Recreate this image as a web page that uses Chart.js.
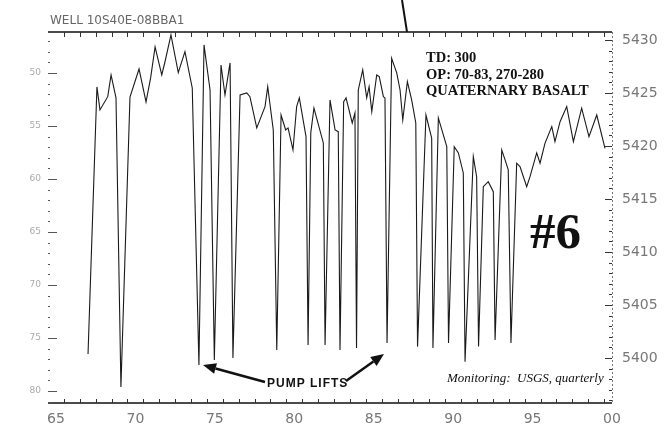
<!DOCTYPE html>
<html>
<head>
<meta charset="utf-8">
<script src="https://cdn.jsdelivr.net/npm/chart.js@4.4.1/dist/chart.umd.min.js"></script>
<style>
  html, body { margin: 0; padding: 0; background: #fff; }
  #wrap { width: 670px; height: 433px; position: relative; }
</style>
</head>
<body>
<div id="wrap"><canvas id="hydro"></canvas></div>
<script>
/* sample dates (decimal year) and water-level elevation (ft) */
var years = [
  1967.02, 1967.58, 1967.77, 1968.26, 1968.47, 1968.78, 1969.09, 1969.66, 1970.23, 1970.67,
  1970.96, 1971.24, 1971.66, 1971.86, 1972.24, 1972.70, 1973.12, 1973.58, 1974.00, 1974.32,
  1974.70, 1974.97, 1975.39, 1975.64, 1975.96, 1976.14, 1976.59, 1977.01, 1977.21, 1977.64,
  1978.16, 1978.33, 1978.68, 1978.90, 1979.17, 1979.46, 1979.61, 1979.92, 1980.15, 1980.32,
  1980.74, 1980.87, 1981.04, 1981.24, 1981.83, 1981.94, 1982.25, 1982.57, 1982.77, 1982.88,
  1983.11, 1983.26, 1983.65, 1983.82, 1983.92, 1984.03, 1984.31, 1984.56, 1984.71, 1984.88,
  1985.19, 1985.35, 1985.61, 1985.71, 1985.84, 1986.13, 1986.45, 1986.66, 1986.83, 1987.12,
  1987.39, 1987.65, 1987.76, 1988.29, 1988.65, 1988.73, 1989.07, 1989.60, 1989.71, 1990.07,
  1990.33, 1990.64, 1990.75, 1991.27, 1991.48, 1991.60, 1991.90, 1992.21, 1992.53, 1992.64,
  1993.06, 1993.27, 1993.47, 1993.64, 1994.00, 1994.21, 1994.63, 1994.84, 1995.26, 1995.47,
  1995.78, 1996.21, 1996.41, 1996.73, 1997.15, 1997.57, 1998.09, 1998.55, 1999.04, 1999.56
];
var waterLevel = [
  5400.38, 5425.57, 5423.40, 5424.65, 5426.70, 5424.53, 5397.26, 5424.62, 5427.26, 5424.15,
  5426.42, 5429.34, 5426.70, 5427.92, 5430.47, 5426.92, 5428.90, 5425.47, 5399.34, 5429.53,
  5425.28, 5399.81, 5427.64, 5424.81, 5427.83, 5400.00, 5424.81, 5425.00, 5424.65, 5421.70,
  5423.71, 5425.59, 5421.51, 5400.75, 5422.92, 5421.51, 5421.70, 5419.62, 5423.71, 5424.53,
  5420.88, 5401.23, 5421.23, 5423.58, 5420.28, 5401.23, 5424.34, 5421.51, 5421.35, 5400.75,
  5424.18, 5424.53, 5422.17, 5423.11, 5400.94, 5425.28, 5427.17, 5424.53, 5425.59, 5423.24,
  5426.70, 5426.54, 5424.65, 5424.53, 5401.42, 5428.27, 5426.89, 5425.28, 5422.45, 5426.07,
  5424.34, 5422.17, 5401.07, 5422.92, 5420.75, 5400.94, 5422.64, 5419.93, 5401.42, 5419.93,
  5419.34, 5417.45, 5399.65, 5418.99, 5417.10, 5401.07, 5416.16, 5416.63, 5415.69, 5401.70,
  5419.62, 5418.68, 5417.74, 5401.42, 5418.37, 5418.05, 5416.16, 5417.10, 5419.34, 5418.37,
  5420.25, 5421.82, 5420.41, 5422.29, 5423.71, 5420.41, 5423.56, 5420.88, 5422.92, 5419.78
];

var yearTicks  = [1965, 1970, 1975, 1980, 1985, 1990, 1995, 2000];
var elevTicks  = [5400, 5405, 5410, 5415, 5420, 5425, 5430];
var depthTicks = [50, 55, 60, 65, 70, 75, 80];

var wellName    = 'WELL 10S40E-08BBA1';
var infoLines   = ['TD: 300', 'OP: 70-83, 270-280', 'QUATERNARY BASALT'];
var wellTag     = '#6';
var pumpNote    = 'PUMP LIFTS';
var monitorNote = 'Monitoring:  USGS, quarterly';

var points = years.map(function (t, i) { return { x: t, y: waterLevel[i] }; });

function fixedTicks(list) {
  return function (scale) { scale.ticks = list.map(function (v) { return { value: v }; }); };
}

function arrow(ctx, x0, y0, x1, y1) {
  var ang = Math.atan2(y1 - y0, x1 - x0), hl = 13, hw = 5.5;
  var bx = x1 - hl * Math.cos(ang), by = y1 - hl * Math.sin(ang);
  ctx.beginPath(); ctx.moveTo(x0, y0); ctx.lineTo(bx, by); ctx.stroke();
  ctx.beginPath();
  ctx.moveTo(x1, y1);
  ctx.lineTo(bx + hw * Math.sin(ang), by - hw * Math.cos(ang));
  ctx.lineTo(bx - hw * Math.sin(ang), by + hw * Math.cos(ang));
  ctx.closePath(); ctx.fill();
}

/* frame, inward ticks and the notes printed on the sheet */
var decor = {
  id: 'decor',
  afterDraw: function (chart) {
    var ctx = chart.ctx, a = chart.chartArea;
    var sx = chart.scales.x, sr = chart.scales.yElev, sl = chart.scales.yDepth;
    var v, p, len;
    ctx.save();

    ctx.strokeStyle = '#111'; ctx.lineWidth = 1.6;
    ctx.beginPath();
    ctx.moveTo(a.left, a.top); ctx.lineTo(a.right, a.top);
    ctx.moveTo(a.left, a.bottom); ctx.lineTo(a.right, a.bottom);
    ctx.stroke();

    ctx.strokeStyle = '#777'; ctx.lineWidth = 1; ctx.setLineDash([2, 2]);
    ctx.beginPath(); ctx.moveTo(a.right + 0.5, a.top); ctx.lineTo(a.right + 0.5, a.bottom); ctx.stroke();
    ctx.setLineDash([]);

    // year ticks, top and bottom
    ctx.strokeStyle = '#333'; ctx.lineWidth = 1;
    ctx.beginPath();
    for (v = 1965; v < 2000; v++) {
      p = Math.round(sx.getPixelForValue(v + 0.5)) + 0.5;
      ctx.moveTo(p, a.top); ctx.lineTo(p, a.top + 5);
      ctx.moveTo(p, a.bottom); ctx.lineTo(p, a.bottom - 4);
    }
    ctx.stroke();

    // elevation ticks on the right
    ctx.beginPath();
    for (v = 5396; v <= 5430; v++) {
      p = Math.round(sr.getPixelForValue(v)) + 0.5;
      len = v % 5 === 0 ? 7 : 3;
      ctx.moveTo(a.right, p); ctx.lineTo(a.right - len, p);
    }
    ctx.stroke();

    // depth ticks on the left
    ctx.strokeStyle = '#555';
    ctx.beginPath();
    for (v = 47; v <= 81; v++) {
      p = Math.round(sl.getPixelForValue(v)) + 0.5;
      len = v % 5 === 0 ? 9 : 2;
      ctx.moveTo(a.left, p); ctx.lineTo(a.left + len, p);
    }
    ctx.stroke();

    // leader line off the top of the sheet
    ctx.strokeStyle = '#111'; ctx.lineWidth = 2;
    ctx.beginPath(); ctx.moveTo(402, 0); ctx.lineTo(407, a.top); ctx.stroke();

    ctx.fillStyle = '#666'; ctx.textBaseline = 'alphabetic'; ctx.textAlign = 'left';
    ctx.font = '12px "DejaVu Sans"';
    ctx.fillText(wellName, 50, 24);

    ctx.fillStyle = '#111';
    ctx.font = 'bold 14.5px "Liberation Serif"';
    infoLines.forEach(function (s, i) { ctx.fillText(s, 426, 62 + i * 16.5); });

    ctx.font = 'bold 51px "Liberation Serif"';
    ctx.fillText(wellTag, 530, 248);

    ctx.font = 'italic 13px "Liberation Serif"';
    ctx.fillText(monitorNote, 447, 382);

    ctx.font = 'bold 12px "Liberation Sans"';
    ctx.letterSpacing = '1px';
    ctx.fillText(pumpNote, 267, 387);
    ctx.letterSpacing = '0px';

    ctx.strokeStyle = '#111'; ctx.fillStyle = '#111'; ctx.lineWidth = 2.5;
    arrow(ctx, 265, 382, 203, 365);
    arrow(ctx, 346, 381, 384, 354);

    ctx.restore();
  }
};

new Chart(document.getElementById('hydro'), {
  type: 'scatter',
  data: {
    datasets: [{
      data: points, showLine: true, yAxisID: 'yElev',
      borderColor: '#1a1a1a', borderWidth: 1.1, pointRadius: 0, tension: 0
    }]
  },
  options: {
    responsive: true, maintainAspectRatio: false, animation: false,
    layout: { padding: { top: 32, left: 0, right: 0, bottom: 0 } },
    plugins: { legend: { display: false }, tooltip: { enabled: false } },
    scales: {
      x: {
        type: 'linear', min: 1964.5, max: 2000,
        afterBuildTicks: fixedTicks(yearTicks),
        afterFit: function (s) { s.height = 30; },
        grid: { display: false, drawTicks: false }, border: { display: false },
        ticks: {
          padding: 8, color: '#777', font: { family: 'DejaVu Sans', size: 14 },
          maxRotation: 0, autoSkip: false,
          callback: function (v) { var s = String(v % 100); return s.length < 2 ? '0' + s : s; }
        }
      },
      yElev: {
        type: 'linear', position: 'right', min: 5395.75, max: 5430.75,
        afterBuildTicks: fixedTicks(elevTicks),
        afterFit: function (s) { s.width = 58; },
        grid: { display: false, drawTicks: false }, border: { display: false },
        ticks: {
          padding: 10, color: '#777', font: { family: 'DejaVu Sans', size: 14 },
          callback: function (v) { return String(v); }
        }
      },
      yDepth: {
        type: 'linear', position: 'left', reverse: true, min: 46.13, max: 81.13,
        afterBuildTicks: fixedTicks(depthTicks),
        afterFit: function (s) { s.width = 48; },
        grid: { display: false, drawTicks: false }, border: { display: false },
        ticks: {
          padding: 7, color: '#aaa', font: { family: 'DejaVu Sans', size: 9 },
          callback: function (v) { return String(v); }
        }
      }
    }
  },
  plugins: [decor]
});
</script>
</body>
</html>
